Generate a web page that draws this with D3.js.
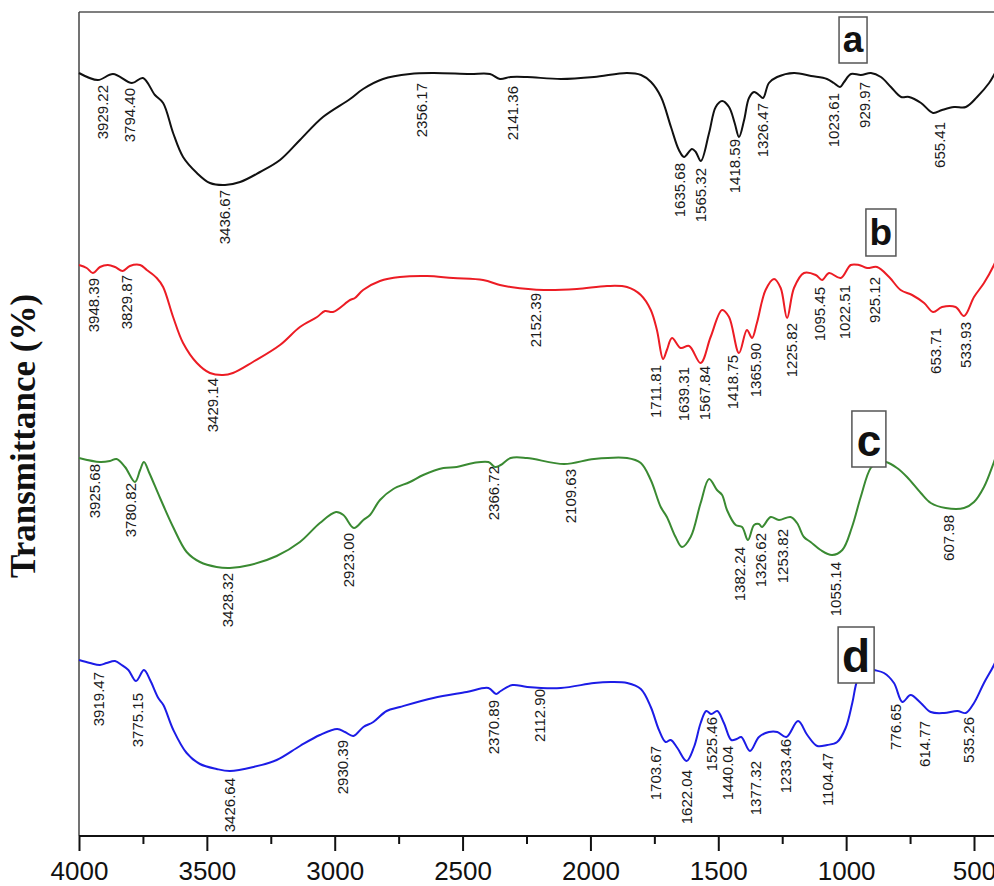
<!DOCTYPE html>
<html>
<head>
<meta charset="utf-8">
<script src="https://cdn.jsdelivr.net/npm/d3@7/dist/d3.min.js"></script>
<style>
  html, body { margin: 0; padding: 0; background: #fff; }
  svg { display: block; }
</style>
</head>
<body>
<svg id="chart" width="994" height="886"></svg>
<script>
// ---------------- DATA ----------------
const xTicksMajor = [4000, 3500, 3000, 2500, 2000, 1500, 1000, 500];
const xTicksMinor = [3750, 3250, 2750, 2250, 1750, 1250, 750];

// Spectrum a (black)
const waveA = [4000,3926,3867,3793,3750,3703,3671,3632,3593,3539,3488,3429,3370,3292,3214,3136,3046,2940,2889,2811,2706,2616,2471,2393,2354,2312,2248,2115,1986,1857,1802,1763,1724,1685,1654,1634,1603,1588,1568,1536,1510,1485,1458,1436,1419,1399,1380,1360,1341,1325,1302,1270,1204,1137,1075,1048,1024,1008,981,942,903,864,825,785,754,707,660,625,578,532,488,441,422,398];
const transA = [763,756,762,753,758,741,733,703,679,663,653,651,654,664,676,696,719,737,747,757,762,763,762,762,757,759,759,757,759,763,761,754,739,709,686,679,687,684,675,703,729,735,729,713,699,716,738,744,741,738,753,759,763,760,757,753,749,754,762,761,763,759,749,739,739,733,723,726,729,729,739,753,761,774];

// Spectrum b (red)
const waveB = [4000,3970,3946,3918,3887,3859,3829,3801,3761,3735,3696,3671,3632,3593,3539,3488,3437,3398,3320,3214,3136,3069,3038,3007,2940,2921,2889,2823,2745,2639,2537,2420,2354,2312,2182,2053,1935,1857,1803,1764,1740,1716,1701,1681,1647,1614,1569,1530,1485,1458,1419,1388,1368,1349,1315,1282,1256,1231,1204,1165,1119,1094,1067,1021,982,950,918,879,832,787,742,695,660,625,572,539,500,461,422,398];
const transB = [571,568,563,569,571,569,565,570,571,566,558,549,519,493,473,463,461,463,474,491,509,519,525,524,536,538,546,555,559,560,558,556,551,549,546,547,550,549,541,526,506,477,486,498,488,490,473,499,526,519,483,506,498,513,546,557,548,518,548,563,561,556,563,558,571,571,568,569,559,546,541,533,524,529,529,520,539,553,571,586];

// Spectrum c (green)
const waveC = [4000,3918,3879,3853,3820,3781,3761,3746,3725,3683,3632,3579,3527,3462,3410,3331,3227,3136,3058,2995,2966,2925,2888,2862,2823,2771,2706,2654,2575,2523,2458,2399,2373,2351,2312,2248,2103,1986,1857,1803,1764,1725,1701,1667,1642,1608,1569,1536,1505,1485,1466,1432,1407,1384,1360,1341,1329,1295,1263,1217,1192,1165,1139,1100,1055,1015,977,943,904,875,844,801,762,708,669,611,539,500,461,422,398];
const transC = [378,374,375,377,369,354,366,374,363,338,309,284,274,269,268,271,280,294,313,324,321,308,316,321,336,347,354,361,368,369,373,374,369,371,378,378,372,377,378,373,356,329,319,299,289,299,333,357,346,341,326,311,309,296,311,312,309,319,316,319,313,299,294,286,281,286,309,339,368,374,374,368,359,343,333,328,328,334,349,374,391];

// Spectrum d (blue)
const waveD = [4000,3957,3918,3892,3859,3833,3807,3777,3746,3722,3690,3670,3631,3579,3527,3462,3410,3318,3227,3136,3058,2990,2960,2927,2888,2849,2797,2745,2614,2484,2399,2369,2351,2305,2247,2116,1986,1921,1856,1803,1764,1732,1706,1686,1660,1624,1595,1569,1547,1527,1504,1478,1449,1428,1410,1376,1341,1302,1269,1234,1188,1152,1113,1074,1035,1002,976,956,926,891,852,813,780,748,708,669,617,565,532,500,461,422,398];
const transD = [176,173,171,173,175,171,166,155,166,156,138,131,106,83,72,67,65,69,76,90,101,107,104,100,109,114,125,129,138,144,148,142,145,151,149,148,153,154,153,147,129,106,94,96,88,75,89,113,125,122,125,113,96,97,99,85,99,104,104,99,115,101,90,91,94,108,133,156,168,166,163,153,134,141,133,124,123,125,123,133,153,171,186];

// Peak annotations (text, anchor wavenumber, anchor transmittance)
const labelsA = ["3929.22","3794.40","3436.67","2356.17","2141.36","1635.68","1565.32","1418.59","1326.47","1023.61","929.97","655.41"];
const labelWaveA = [3908,3804,3429,2659,2304,1650,1568,1435,1325,1051,926,633];
const labelTransA = [751,748,646,753,750,673,668,697,733,743,754,714];

const labelsB = ["3948.39","3829.87","3429.14","2152.39","1711.81","1639.31","1567.84","1418.75","1365.90","1225.82","1095.45","1022.51","925.12","653.71","533.93"];
const labelWaveB = [3941,3812,3478,2213,1747,1634,1552,1443,1353,1212,1102,1008,887,652,531];
const labelTransB = [558,561,458,543,471,469,470,481,493,513,549,551,559,508,514];

const labelsC = ["3925.68","3780.82","3428.32","2923.00","2366.72","2109.63","1382.24","1326.62","1253.82","1055.14","607.98"];
const labelWaveC = [3939,3797,3419,2944,2377,2076,1415,1333,1247,1040,598];
const labelTransC = [372,353,263,303,370,367,289,303,307,274,321];

const labelsD = ["3919.47","3775.15","3426.64","2930.39","2370.89","2112.90","1703.67","1622.04","1525.46","1440.04","1377.32","1233.46","1104.47","776.65","614.77","535.26"];
const labelWaveD = [3922,3769,3410,2970,2377,2199,1747,1622,1525,1462,1353,1235,1071,805,692,523];
const labelTransD = [164,143,58,96,136,147,90,66,119,90,75,97,83,132,115,119];

// Sample tags
const sampleTags = ["a","b","c","d"];
const tagWave = [973,864,911,961];
const tagTransTop = [819,627,425,209];
const tagTransBottom = [773,580,369,153];

// ---------------- LAYOUT ----------------
const svg = d3.select("#chart");
const plotLeft = 79, plotTop = 12, plotBottom = 836;

const x = d3.scaleLinear().domain([4000, 500]).range([79, 974]);
const y = d3.scaleLinear().domain([0, 824]).range([plotBottom, plotTop]);

const series = [
  {w: waveA, t: transA, color: "#111111", labs: labelsA, lw: labelWaveA, lt: labelTransA},
  {w: waveB, t: transB, color: "#ec1c24", labs: labelsB, lw: labelWaveB, lt: labelTransB},
  {w: waveC, t: transC, color: "#3a8a32", labs: labelsC, lw: labelWaveC, lt: labelTransC},
  {w: waveD, t: transD, color: "#1c1ce6", labs: labelsD, lw: labelWaveD, lt: labelTransD}
];

const line = d3.line()
  .x(d => x(d[0]))
  .y(d => y(d[1]))
  .curve(d3.curveCatmullRom.alpha(0.5));

// Frame: top and left
svg.append("line").attr("x1", plotLeft).attr("x2", 1010).attr("y1", plotTop).attr("y2", plotTop)
  .attr("stroke", "#555").attr("stroke-width", 1.5);
svg.append("line").attr("x1", plotLeft).attr("x2", plotLeft).attr("y1", plotTop).attr("y2", plotBottom)
  .attr("stroke", "#444").attr("stroke-width", 1.5);

// Curves
series.forEach(s => {
  const pts = s.w.map((w, i) => [w, s.t[i]]);
  svg.append("path").datum(pts)
    .attr("d", line)
    .attr("fill", "none")
    .attr("stroke", s.color)
    .attr("stroke-width", 2)
    .attr("stroke-linejoin", "round");
});

// Peak labels
series.forEach(s => {
  s.labs.forEach((txt, i) => {
    svg.append("text")
      .attr("transform", `translate(${x(s.lw[i])},${y(s.lt[i])}) rotate(-90)`)
      .attr("text-anchor", "end")
      .attr("dy", "0.36em")
      .attr("font-family", "'Liberation Sans', Arial, sans-serif")
      .attr("font-size", 15)
      .attr("fill", "#1a1a1a")
      .text(txt);
  });
});

// Sample tag boxes
const tagWidth = [28, 30, 34, 36];
const tagFont = [37, 37, 44, 46];
sampleTags.forEach((tag, i) => {
  const cx = x(tagWave[i]);
  const y0 = y(tagTransTop[i]), y1 = y(tagTransBottom[i]);
  svg.append("rect")
    .attr("x", cx - tagWidth[i] / 2).attr("y", y0)
    .attr("width", tagWidth[i]).attr("height", y1 - y0)
    .attr("fill", "#fff").attr("stroke", "#555").attr("stroke-width", 1.5);
  svg.append("text")
    .attr("x", cx).attr("y", y1 - 11)
    .attr("text-anchor", "middle")
    .attr("font-family", "'Liberation Sans', Arial, sans-serif")
    .attr("font-weight", "bold")
    .attr("font-size", tagFont[i])
    .attr("fill", "#111")
    .text(tag);
});

// X axis
const axisG = svg.append("g").attr("transform", `translate(0,${plotBottom})`);
axisG.append("line").attr("x1", plotLeft).attr("x2", 1010).attr("y1", 0).attr("y2", 0)
  .attr("stroke", "#111").attr("stroke-width", 2);
const majorAxis = d3.axisBottom(x).tickValues(xTicksMajor).tickSize(15).tickFormat(d3.format("d"));
const gMaj = axisG.append("g").call(majorAxis);
gMaj.select(".domain").remove();
gMaj.selectAll(".tick line").attr("stroke", "#111").attr("stroke-width", 2);
gMaj.selectAll(".tick text")
  .attr("font-family", "'Liberation Sans', Arial, sans-serif")
  .attr("font-size", 26)
  .attr("fill", "#111")
  .attr("dy", 0)
  .attr("y", 44);
const minorAxis = d3.axisBottom(x).tickValues(xTicksMinor).tickSize(8).tickFormat("");
const gMin = axisG.append("g").call(minorAxis);
gMin.select(".domain").remove();
gMin.selectAll(".tick line").attr("stroke", "#111").attr("stroke-width", 2);

// Y axis title
svg.append("text")
  .attr("transform", "translate(35,436) rotate(-90)")
  .attr("text-anchor", "middle")
  .attr("font-family", "'Liberation Serif', 'Times New Roman', serif")
  .attr("font-weight", "bold")
  .attr("font-size", 35)
  .attr("fill", "#111")
  .text("Transmittance (%)");
</script>
</body>
</html>
